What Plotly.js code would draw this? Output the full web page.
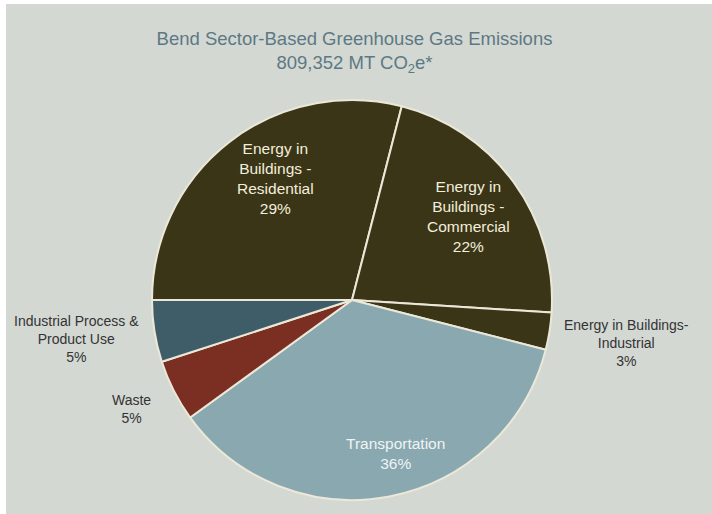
<!DOCTYPE html>
<html>
<head>
<meta charset="utf-8">
<script src="https://cdn.plot.ly/plotly-3.0.1.min.js"></script>
<style>
html,body{margin:0;padding:0;background:#ffffff;width:712px;height:514px;overflow:hidden;}
#chart{position:absolute;left:6px;top:4px;width:706px;height:510px;}
</style>
</head>
<body>
<div id="chart"></div>
<script>
// Data
var sectorLabels = [
  "Energy in<br>Buildings -<br>Residential",
  "Energy in<br>Buildings -<br>Commercial",
  "Energy in Buildings-<br>Industrial",
  "Transportation",
  "Waste",
  "Industrial Process &<br>Product Use"
];
var sectorShares = [29, 22, 3, 36, 5, 5];
var sectorColors = ["#3b3517", "#3b3517", "#3b3517", "#8aa8b0", "#7a2f22", "#3f5d68"];
var textColors = ["#f2eedc", "#f2eedc", "#333333", "#eef4f4", "#333333", "#333333"];
var chartTitle = "Bend Sector-Based Greenhouse Gas Emissions<br>809,352 MT CO<sub>2</sub>e*";

// Layout helpers (positions, not data)
var W = 706, H = 510;
var cx = 346, cy = 296, R = 200;
var labelPx = [[269, 174], [462, 212], [620, 339], [389, 449], [126, 405], [70, 335]];
var labelInside = [true, true, false, true, false, false];

var trace = {
  type: "pie",
  labels: sectorLabels,
  values: sectorShares,
  sort: false,
  direction: "clockwise",
  rotation: -90,
  marker: {colors: sectorColors, line: {color: "#ebe8d8", width: 2}},
  textinfo: "none",
  automargin: false,
  showlegend: false,
  hoverinfo: "label+percent",
  domain: {x: [(cx - R) / W, (cx + R) / W], y: [(H - cy - R) / H, (H - cy + R) / H]}
};

var total = sectorShares.reduce(function (a, b) { return a + b; }, 0);
var annotations = sectorLabels.map(function (lab, i) {
  var pct = Math.round(sectorShares[i] / total * 100) + "%";
  return {
    text: lab + "<br>" + pct,
    xref: "paper", yref: "paper",
    x: labelPx[i][0] / W, y: 1 - labelPx[i][1] / H,
    xanchor: "center", yanchor: "middle", align: "center",
    showarrow: false,
    font: {
      family: "Liberation Sans, Arial, sans-serif",
      size: labelInside[i] ? 15.5 : 14,
      color: textColors[i]
    }
  };
});

var layout = {
  width: W, height: H,
  paper_bgcolor: "#d3d8d3",
  margin: {l: 0, r: 0, t: 0, b: 0},
  title: {
    text: chartTitle,
    x: 348.5 / W, xanchor: "center",
    y: 1 - 41 / H, yanchor: "middle",
    font: {family: "Liberation Sans, Arial, sans-serif", size: 18.5, color: "#5d7884"}
  },
  annotations: annotations,
  showlegend: false
};

Plotly.newPlot("chart", [trace], layout, {displayModeBar: false, staticPlot: true});
</script>
</body>
</html>
